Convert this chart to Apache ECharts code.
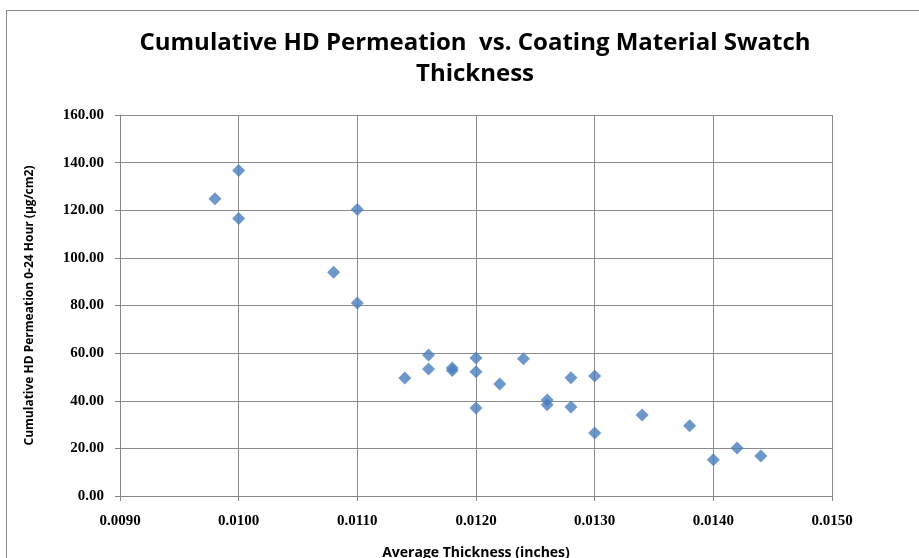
<!DOCTYPE html>
<html><head><meta charset="utf-8">
<script src="https://cdn.jsdelivr.net/npm/echarts@6/dist/echarts.min.js"></script>
<style>html,body{margin:0;padding:0;background:#fff}#c{width:919px;height:558px}
#frame{position:absolute;left:6px;top:10px;width:912px;height:560px;border:1px solid #8c8c8c;pointer-events:none}</style>
</head><body><div id="c"></div><div id="frame"></div>
<script>
const thickness = [0.0098,0.0100,0.0100,0.0110,0.0108,0.0110,0.0114,0.0116,0.0116,0.0118,0.0118,0.0120,0.0120,0.0120,0.0122,0.0124,0.0126,0.0126,0.0128,0.0128,0.0130,0.0130,0.0134,0.0138,0.0140,0.0142,0.0144];
const permeation = [124.8,136.7,116.5,120.3,94.0,81.0,49.6,59.2,53.3,53.8,52.7,58.0,52.2,37.0,47.0,57.6,40.3,38.3,49.7,37.4,50.4,26.5,34.0,29.5,15.2,20.2,16.8];
const xTicks = [0.0090,0.0100,0.0110,0.0120,0.0130,0.0140,0.0150];
const yTicks = [0,20,40,60,80,100,120,140,160];

const chart = echarts.init(document.getElementById('c'));
const pts = thickness.map((t,i)=>[t,permeation[i]]);
chart.setOption({
  animation:false,
  title:{text:'Cumulative HD Permeation  vs. Coating Material Swatch\nThickness',left:470,top:23,textAlign:'center',
    textStyle:{fontFamily:'Open Sans',fontWeight:'bold',fontSize:24,lineHeight:31,color:'#000'}},
  grid:{left:120,right:87,top:115,bottom:62,containLabel:false,outerBoundsMode:'none'},
  xAxis:{type:'value',min:0.0090,max:0.0150,interval:0.0010,
    name:'Average Thickness (inches)',nameLocation:'middle',nameGap:50,
    nameTextStyle:{fontFamily:'Open Sans',fontWeight:'bold',fontSize:14,color:'#000'},
    axisLine:{lineStyle:{color:'#868686'}},axisTick:{show:true,length:5,lineStyle:{color:'#868686'}},
    splitLine:{show:true,lineStyle:{color:'#8c8c8c',width:1}},
    axisLabel:{fontFamily:'Liberation Serif',fontWeight:'bold',fontSize:15,color:'#000',margin:18,
      formatter:v=>v.toFixed(4)}},
  yAxis:{type:'value',min:0,max:160,interval:20,
    name:'Cumulative HD Permeation 0-24 Hour (µg/cm2)',nameLocation:'middle',nameGap:84,nameRotate:90,
    nameTextStyle:{fontFamily:'Open Sans',fontWeight:'bold',fontSize:12,color:'#000'},
    axisLine:{show:true,lineStyle:{color:'#868686'}},axisTick:{show:true,length:5,lineStyle:{color:'#868686'}},
    splitLine:{show:true,lineStyle:{color:'#8c8c8c',width:1}},
    axisLabel:{fontFamily:'Liberation Serif',fontWeight:'bold',fontSize:15,color:'#000',margin:16,
      formatter:v=>v.toFixed(2)}},
  series:[{type:'scatter',symbol:'diamond',symbolSize:13,data:pts,
    itemStyle:{color:'#4A7EBB'}}]
});
</script></body></html>
